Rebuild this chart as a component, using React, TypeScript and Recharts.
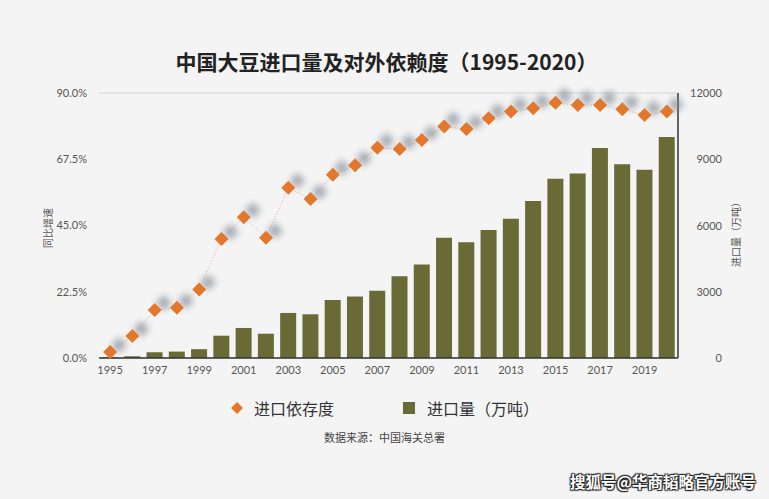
import React from 'react';
import { ComposedChart, Bar, Line, XAxis, YAxis, CartesianGrid } from 'recharts';

const years = ['1995', '1996', '1997', '1998', '1999', '2000', '2001', '2002', '2003', '2004', '2005', '2006', '2007',
  '2008', '2009', '2010', '2011', '2012', '2013', '2014', '2015', '2016', '2017', '2018', '2019', '2020'];
// 进口依存度 (%)
const dependence = [2.0, 7.5, 16.3, 17.1, 23.3, 40.4, 47.8, 40.8, 57.8, 54.0, 62.2, 65.5, 71.4,
  71.0, 74.0, 78.6, 77.8, 81.4, 83.7, 84.8, 86.7, 85.9, 85.9, 84.5, 82.5, 83.7];
// 进口量 (万吨)
const imports = [30, 80, 260, 290, 400, 1010, 1360, 1100, 2040, 1980, 2630, 2780, 3040,
  3700, 4230, 5450, 5240, 5800, 6310, 7110, 8120, 8350, 9510, 8770, 8530, 10010];
const leftTicks = [0, 22.5, 45, 67.5, 90];
const rightTicks = [0, 3000, 6000, 9000, 12000];

const data = years.map((y, i) => ({ year: y, dep: dependence[i], imp: imports[i] }));

const ORANGE = '#e3772b';
const OLIVE = '#6a6a37';
const NUM_FONT = 'Lato, "Noto Sans", sans-serif';
const CJK_FONT = '"Noto Sans CJK SC", sans-serif';

const diamond = (cx: number, cy: number, r: number) =>
  `M${cx},${cy - r} L${cx + r},${cy} L${cx},${cy + r} L${cx - r},${cy} Z`;

const Dot = (props: any) => {
  const { cx, cy, index } = props;
  if (cx == null || cy == null) return null;
  return (
    <g key={`d-${index}`}>
      <path d={diamond(cx + 9, cy - 7, 8)} fill="#7d8793" opacity={0.7} filter="url(#dshadow)" />
      <path d={diamond(cx, cy, 7)} fill={ORANGE} />
    </g>
  );
};

const RightTick = (props: any) => {
  const { x, y, payload } = props;
  return (
    <text x={x + 36} y={y + 4} textAnchor="end" fontSize={11} fill="#555" fontFamily={NUM_FONT}>
      {payload.value}
    </text>
  );
};

export default function App() {
  return (
    <div style={{ position: 'absolute', left: 0, top: 0, width: 769, height: 499, background: '#f4f4f4', overflow: 'hidden' }}>
      <svg width="0" height="0" style={{ position: 'absolute' }}>
        <defs>
          <filter id="dshadow" x="-100%" y="-100%" width="300%" height="300%">
            <feGaussianBlur stdDeviation="3.5" />
          </filter>
        </defs>
      </svg>
      <div style={{ position: 'absolute', left: 2, width: 769, top: 46, textAlign: 'center', fontFamily: CJK_FONT, fontWeight: 700, fontSize: 21, color: '#222' }}>
        中国大豆进口量及对外依赖度（1995-2020）
      </div>
      <div style={{ position: 'absolute', left: 0, top: 0 }}>
        <ComposedChart width={769} height={499} data={data} margin={{ top: 93, right: 31, bottom: 111, left: 39 }}>
          <CartesianGrid vertical={false} stroke="#d6d6d6" strokeWidth={1.2} />
          <XAxis dataKey="year" interval={1} tickLine={false} axisLine={{ stroke: '#333', strokeWidth: 1.5 }}
            tick={{ fontSize: 11, fill: '#555', fontFamily: NUM_FONT }} tickMargin={2} height={30} />
          <YAxis yAxisId="left" domain={[0, 90]} ticks={leftTicks} axisLine={false} tickLine={false} width={60}
            tickFormatter={(v: number) => `${v.toFixed(1)}%`} tickMargin={6}
            tick={{ fontSize: 11, fill: '#555', fontFamily: NUM_FONT }} />
          <YAxis yAxisId="right" orientation="right" domain={[0, 12000]} ticks={rightTicks} tickLine={false}
            axisLine={{ stroke: '#333', strokeWidth: 1.5 }} width={60} tick={<RightTick />} />
          <Bar yAxisId="right" dataKey="imp" fill={OLIVE} barSize={16} isAnimationActive={false} />
          <Line yAxisId="left" dataKey="dep" type="linear" stroke="#e8a47a" strokeWidth={1} strokeDasharray="1 2"
            dot={<Dot />} activeDot={false} isAnimationActive={false} />
        </ComposedChart>
      </div>
      <div style={{ position: 'absolute', left: 47, top: 228, transform: 'translate(-50%,-50%) rotate(-90deg)', fontFamily: CJK_FONT, fontSize: 10, color: '#555', whiteSpace: 'nowrap' }}>
        同比增速
      </div>
      <div style={{ position: 'absolute', left: 735, top: 232, transform: 'translate(-50%,-50%) rotate(-90deg)', fontFamily: CJK_FONT, fontSize: 10, color: '#555', whiteSpace: 'nowrap' }}>
        进口量（万吨）
      </div>
      <svg width="12" height="12" style={{ position: 'absolute', left: 231, top: 402 }}>
        <path d={diamond(6, 6, 6)} fill={ORANGE} />
      </svg>
      <div style={{ position: 'absolute', left: 254, top: 396, fontFamily: CJK_FONT, fontSize: 16, color: '#333' }}>进口依存度</div>
      <div style={{ position: 'absolute', left: 403, top: 402, width: 12, height: 12, background: OLIVE }} />
      <div style={{ position: 'absolute', left: 427, top: 396, fontFamily: CJK_FONT, fontSize: 16, color: '#333' }}>进口量（万吨）</div>
      <div style={{ position: 'absolute', left: 0, width: 769, top: 429, textAlign: 'center', fontFamily: CJK_FONT, fontSize: 11, color: '#444' }}>
        数据来源：中国海关总署
      </div>
      <div style={{ position: 'absolute', left: 570, top: 470, fontFamily: CJK_FONT, fontWeight: 700, fontSize: 15.5, color: '#fff', textShadow: '1px 1px 1px #222, -1px -1px 1px #222, 1px -1px 1px #222, -1px 1px 1px #222', whiteSpace: 'nowrap' }}>
        搜狐号@华商韬略官方账号
      </div>
    </div>
  );
}
